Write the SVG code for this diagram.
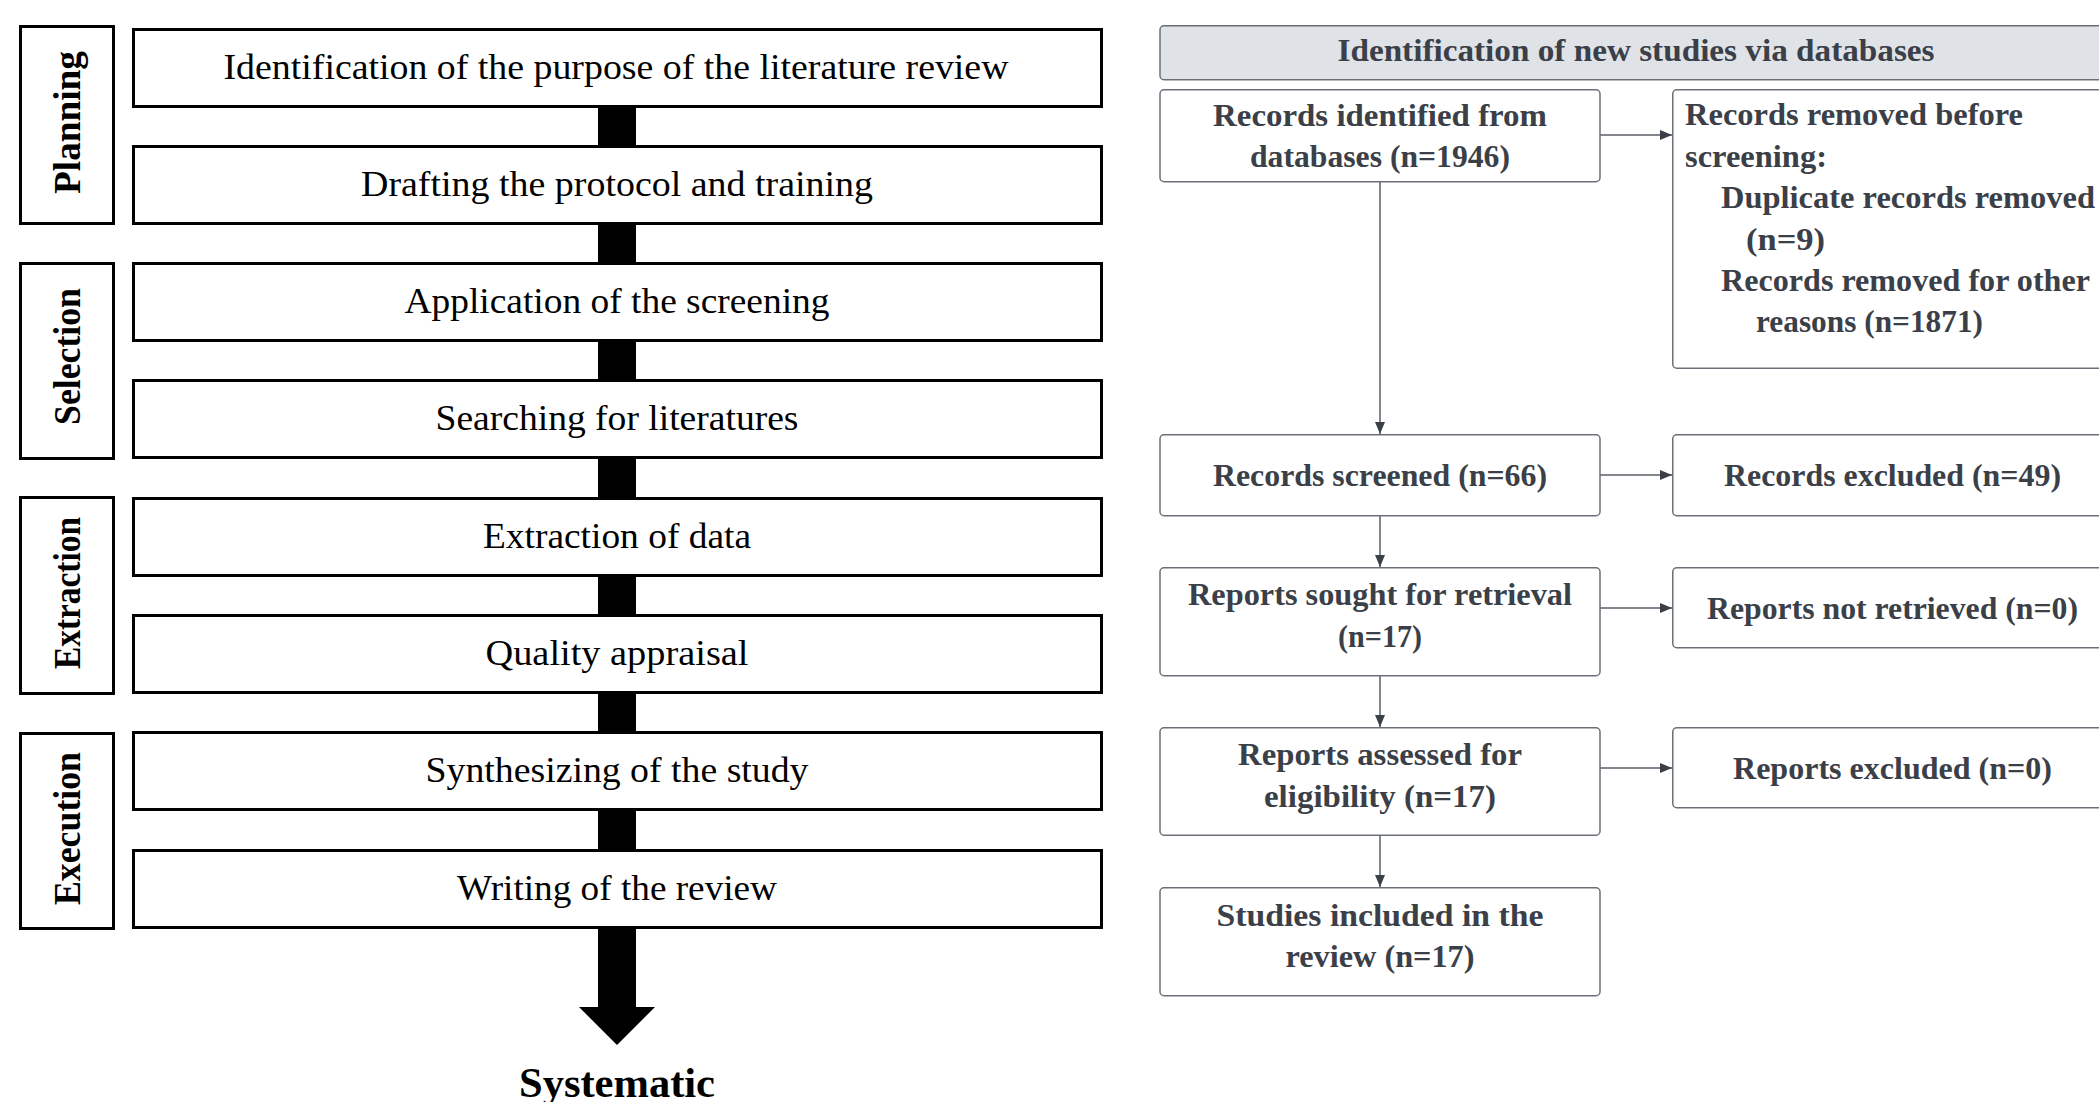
<svg xmlns="http://www.w3.org/2000/svg" width="2099" height="1102" viewBox="0 0 2099 1102">
<style>
.step{fill:#fff;stroke:#000;stroke-width:3}
.side{fill:#fff;stroke:#000;stroke-width:3}
.st{font-family:"Liberation Serif",serif;font-size:36px;fill:#000;text-anchor:middle}
.sl{font-family:"Liberation Serif",serif;font-size:37px;font-weight:bold;fill:#000;text-anchor:middle}
.bar{fill:#000}
.pb{fill:#fff;stroke:#6b7078;stroke-width:1.5}
.ph{fill:#dfe2e7;stroke:#6b7078;stroke-width:1.5}
.pt{font-family:"Liberation Serif",serif;font-size:32px;font-weight:bold;fill:#3b4048;text-anchor:middle}
.pl{font-family:"Liberation Serif",serif;font-size:32px;font-weight:bold;fill:#3b4048}
.cn{stroke:#5a5f66;stroke-width:1.5;fill:none;marker-end:url(#ah)}
</style>
<defs>
<marker id="ah" markerWidth="12" markerHeight="10" refX="12" refY="5" orient="auto" markerUnits="userSpaceOnUse">
<path d="M0,0 L12,5 L0,10 z" fill="#3b4048"/>
</marker>
</defs>
<rect width="2099" height="1102" fill="#fff"/>

<!-- Left: process connectors -->
<g id="process-connectors">
<rect class="bar" x="598" y="107" width="38" height="39"/>
<rect class="bar" x="598" y="224" width="38" height="39"/>
<rect class="bar" x="598" y="341" width="38" height="39"/>
<rect class="bar" x="598" y="458" width="38" height="40"/>
<rect class="bar" x="598" y="576" width="38" height="39"/>
<rect class="bar" x="598" y="693" width="38" height="39"/>
<rect class="bar" x="598" y="810" width="38" height="40"/>
<rect class="bar" x="598" y="928" width="38" height="80"/>
<polygon class="bar" points="579,1007 655,1007 617,1045"/>
</g>

<!-- Left: phase labels -->
<g id="phase-planning"><rect class="side" x="20.5" y="26.5" width="93" height="197"/><text class="sl" transform="translate(80,122.5) rotate(-90)" textLength="143" lengthAdjust="spacingAndGlyphs">Planning</text></g>
<g id="phase-selection"><rect class="side" x="20.5" y="263.5" width="93" height="195"/><text class="sl" transform="translate(80,356.5) rotate(-90)" textLength="137" lengthAdjust="spacingAndGlyphs">Selection</text></g>
<g id="phase-extraction"><rect class="side" x="20.5" y="497.5" width="93" height="196"/><text class="sl" transform="translate(80,593) rotate(-90)" textLength="152" lengthAdjust="spacingAndGlyphs">Extraction</text></g>
<g id="phase-execution"><rect class="side" x="20.5" y="733.5" width="93" height="195"/><text class="sl" transform="translate(80,828.5) rotate(-90)" textLength="153" lengthAdjust="spacingAndGlyphs">Execution</text></g>

<!-- Left: steps -->
<g id="step-1"><rect class="step" x="133.5" y="29.5" width="968" height="77"/><text class="st" x="616" y="79" textLength="785" lengthAdjust="spacingAndGlyphs">Identification of the purpose of the literature review</text></g>
<g id="step-2"><rect class="step" x="133.5" y="146.5" width="968" height="77"/><text class="st" x="617" y="196" textLength="512" lengthAdjust="spacingAndGlyphs">Drafting the protocol and training</text></g>
<g id="step-3"><rect class="step" x="133.5" y="263.5" width="968" height="77"/><text class="st" x="617" y="313" textLength="425" lengthAdjust="spacingAndGlyphs">Application of the screening</text></g>
<g id="step-4"><rect class="step" x="133.5" y="380.5" width="968" height="77"/><text class="st" x="617" y="430" textLength="363" lengthAdjust="spacingAndGlyphs">Searching for literatures</text></g>
<g id="step-5"><rect class="step" x="133.5" y="498.5" width="968" height="77"/><text class="st" x="617" y="548" textLength="268" lengthAdjust="spacingAndGlyphs">Extraction of data</text></g>
<g id="step-6"><rect class="step" x="133.5" y="615.5" width="968" height="77"/><text class="st" x="617" y="665" textLength="263" lengthAdjust="spacingAndGlyphs">Quality appraisal</text></g>
<g id="step-7"><rect class="step" x="133.5" y="732.5" width="968" height="77"/><text class="st" x="617" y="782" textLength="383" lengthAdjust="spacingAndGlyphs">Synthesizing of the study</text></g>
<g id="step-8"><rect class="step" x="133.5" y="850.5" width="968" height="77"/><text class="st" x="617" y="900" textLength="320" lengthAdjust="spacingAndGlyphs">Writing of the review</text></g>

<g id="result"><text x="617" y="1097" font-family="Liberation Serif, serif" font-size="42" font-weight="bold" text-anchor="middle" textLength="196" lengthAdjust="spacingAndGlyphs">Systematic</text></g>

<!-- Right: PRISMA -->
<g id="prisma-connectors">
<line class="cn" x1="1380" y1="182" x2="1380" y2="434"/>
<line class="cn" x1="1380" y1="516" x2="1380" y2="567"/>
<line class="cn" x1="1380" y1="676" x2="1380" y2="727"/>
<line class="cn" x1="1380" y1="835.5" x2="1380" y2="887"/>
<line class="cn" x1="1600" y1="135" x2="1672" y2="135"/>
<line class="cn" x1="1600" y1="475" x2="1672" y2="475"/>
<line class="cn" x1="1600" y1="608" x2="1672" y2="608"/>
<line class="cn" x1="1600" y1="768" x2="1672" y2="768"/>
</g>

<g id="header"><rect class="ph" x="1160" y="25.75" width="952" height="54" rx="4"/><text class="pt" x="1636" y="60.5" textLength="597" lengthAdjust="spacingAndGlyphs">Identification of new studies via databases</text></g>

<g id="records-identified"><rect class="pb" x="1160" y="89.75" width="440" height="92" rx="4"/>
<text class="pt" x="1380" y="126" textLength="334" lengthAdjust="spacingAndGlyphs">Records identified from</text>
<text class="pt" x="1380" y="167" textLength="260" lengthAdjust="spacingAndGlyphs">databases (n=1946)</text></g>

<g id="records-removed"><rect class="pb" x="1672.75" y="89.75" width="440" height="278.5" rx="4"/>
<text class="pl" x="1685" y="125" textLength="338" lengthAdjust="spacingAndGlyphs">Records removed before</text>
<text class="pl" x="1685" y="166.5" textLength="142" lengthAdjust="spacingAndGlyphs">screening:</text>
<text class="pl" x="1721" y="208" textLength="374" lengthAdjust="spacingAndGlyphs">Duplicate records removed</text>
<text class="pl" x="1746" y="249.5" textLength="79" lengthAdjust="spacingAndGlyphs">(n=9)</text>
<text class="pl" x="1721" y="291" textLength="369" lengthAdjust="spacingAndGlyphs">Records removed for other</text>
<text class="pl" x="1756" y="332" textLength="227" lengthAdjust="spacingAndGlyphs">reasons (n=1871)</text></g>

<g id="records-screened"><rect class="pb" x="1160" y="434.75" width="440" height="81" rx="4"/>
<text class="pt" x="1380" y="486" textLength="334" lengthAdjust="spacingAndGlyphs">Records screened (n=66)</text></g>

<g id="records-excluded"><rect class="pb" x="1672.75" y="434.75" width="440" height="81" rx="4"/>
<text class="pt" x="1892.5" y="486" textLength="337" lengthAdjust="spacingAndGlyphs">Records excluded (n=49)</text></g>

<g id="reports-sought"><rect class="pb" x="1160" y="567.75" width="440" height="108" rx="4"/>
<text class="pt" x="1380" y="605" textLength="384" lengthAdjust="spacingAndGlyphs">Reports sought for retrieval</text>
<text class="pt" x="1380" y="647" textLength="84" lengthAdjust="spacingAndGlyphs">(n=17)</text></g>

<g id="reports-not-retrieved"><rect class="pb" x="1672.75" y="567.75" width="440" height="80" rx="4"/>
<text class="pt" x="1892.5" y="619" textLength="371" lengthAdjust="spacingAndGlyphs">Reports not retrieved (n=0)</text></g>

<g id="reports-assessed"><rect class="pb" x="1160" y="727.75" width="440" height="107.5" rx="4"/>
<text class="pt" x="1380" y="765" textLength="284" lengthAdjust="spacingAndGlyphs">Reports assessed for</text>
<text class="pt" x="1380" y="807" textLength="232" lengthAdjust="spacingAndGlyphs">eligibility (n=17)</text></g>

<g id="reports-excluded"><rect class="pb" x="1672.75" y="727.75" width="440" height="80" rx="4"/>
<text class="pt" x="1892.5" y="779" textLength="319" lengthAdjust="spacingAndGlyphs">Reports excluded (n=0)</text></g>

<g id="studies-included"><rect class="pb" x="1160" y="887.75" width="440" height="108" rx="4"/>
<text class="pt" x="1380" y="926" textLength="327" lengthAdjust="spacingAndGlyphs">Studies included in the</text>
<text class="pt" x="1380" y="967" textLength="189" lengthAdjust="spacingAndGlyphs">review (n=17)</text></g>
</svg>
